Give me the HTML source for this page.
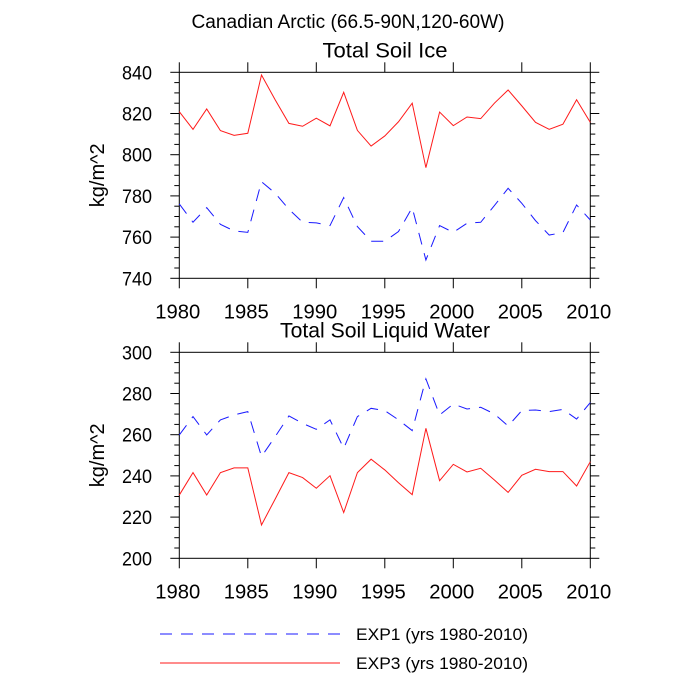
<!DOCTYPE html>
<html><head><meta charset="utf-8"><style>
body{margin:0;background:#fff;}
svg{display:block;font-family:"Liberation Sans",sans-serif;}
</style></head><body>
<svg id="c" width="700" height="700" viewBox="0 0 700 700">
<text x="348" y="28" font-size="19" text-anchor="middle" textLength="313" lengthAdjust="spacingAndGlyphs">Canadian Arctic (66.5-90N,120-60W)</text>
<g id="g"></g>
<line x1="160" y1="634" x2="340" y2="634" stroke="#1a1aff" stroke-width="1" stroke-dasharray="12,9"/>
<text x="356" y="640" font-size="17" textLength="172" lengthAdjust="spacingAndGlyphs">EXP1 (yrs 1980-2010)</text>
<line x1="160" y1="663" x2="340" y2="663" stroke="#ff1a1a" stroke-width="1"/>
<text x="356" y="669" font-size="17" textLength="172" lengthAdjust="spacingAndGlyphs">EXP3 (yrs 1980-2010)</text>
</svg>
<script>
const years=[];for(let y=1980;y<=2010;y++)years.push(y);
const iceExp3=[820.9,812.3,822.2,811.7,809.4,810.4,838.7,826.6,815.2,813.8,817.7,814,830.3,811.8,804.2,809.1,816,825,793.7,820.7,814.1,818.3,817.5,825,831.4,823.7,815.7,812.3,814.8,826.7,815.7];
const iceExp1=[776.1,767.2,774.3,766.2,763,762.3,786.9,781.3,773.5,767.2,766.9,765.6,779.2,765.1,758,758,762.7,774.3,748.9,765.6,762.3,766.7,767.2,775.3,783.7,776.4,768,761,762.2,775.6,768.3];
const liqExp1=[259.9,268.8,259.9,267.2,269.6,271.2,249.4,259.1,269.1,265.5,262.6,267.2,253.4,268.8,272.8,271.7,267.2,262,287.1,269.6,274.9,272.5,273.3,270.1,264.2,271.7,272,271.2,272.3,267.6,275.6];
const liqExp3=[230.7,241.6,230.7,241.6,243.9,243.9,216.2,228.8,241.6,239.2,234,240.1,222.2,241.6,248.1,242.9,236.7,230.9,263.1,237.7,245.6,241.9,243.7,238,232,240.3,243.2,242.1,242.1,235.1,246.9];
const xTicks=[1980,1985,1990,1995,2000,2005,2010];
const iceTicks=[740,760,780,800,820,840];
const liqTicks=[200,220,240,260,280,300];
const NS='http://www.w3.org/2000/svg';
const G=document.getElementById('g');
function mk(t,a,p){const e=document.createElementNS(NS,t);for(const k in a)e.setAttribute(k,a[k]);(p||G).appendChild(e);return e;}
const X0=179.3,X1=590.3;
const xs=v=>X0+(v-1980)/30*(X1-X0);
function panel(name,title,top,ymin,ymax,ticks,s1,s3,tw){
  const bot=top+206;const ys=v=>bot-(v-ymin)/(ymax-ymin)*206;
  const g=mk('g',{});
  
  
  const t=mk('text',{x:385,y:top-15,'font-size':21,'text-anchor':'middle',textLength:tw,lengthAdjust:'spacingAndGlyphs'},g);t.textContent=title;
  
  
  const yl=mk('text',{x:0,y:0,'font-size':20,'text-anchor':'middle',transform:`translate(104,${top+103}) rotate(-90)`},g);yl.textContent='kg/m^2';
  
  
  const f=mk('rect',{x:X0,y:top,width:X1-X0,height:206,fill:'none',stroke:'#000','stroke-width':1},g);
  
  
  for(let v=ymin;v<=ymax;v+=(ymax-ymin)/20){const y=ys(v);const maj=ticks.includes(Math.round(v));const L=maj?9:5;
    mk('line',{x1:X0-L,y1:y,x2:X0,y2:y,stroke:'#000'},g);mk('line',{x1:X1,y1:y,x2:X1+L,y2:y,stroke:'#000'},g);}
  ticks.forEach(v=>{const l=mk('text',{x:152,y:ys(v)+7,'font-size':19.5,'text-anchor':'end',textLength:30,lengthAdjust:'spacingAndGlyphs'},g);l.textContent=v;
    
    });
  xTicks.forEach(v=>{const x=xs(v);mk('line',{x1:x,y1:top-10,x2:x,y2:top,stroke:'#000'},g);mk('line',{x1:x,y1:bot,x2:x,y2:bot+10,stroke:'#000'},g);
    const l=mk('text',{x:x-1.5,y:bot+40,'font-size':20.5,'text-anchor':'middle',textLength:45,lengthAdjust:'spacingAndGlyphs'},g);l.textContent=v;
    
    });
  const p1=mk('polyline',{points:s1.map((v,i)=>xs(years[i])+','+ys(v)).join(' '),fill:'none',stroke:'#1a1aff','stroke-width':1,'stroke-dasharray':'12,9'},g);
  
  
  const p3=mk('polyline',{points:s3.map((v,i)=>xs(years[i])+','+ys(v)).join(' '),fill:'none',stroke:'#ff1a1a','stroke-width':1},g);
  
  
}
panel('soil-ice','Total Soil Ice',72.3,740,840,iceTicks,iceExp1,iceExp3,125);
panel('soil-liquid','Total Soil Liquid Water',352.3,200,300,liqTicks,liqExp1,liqExp3,210);
</script>
</body></html>
